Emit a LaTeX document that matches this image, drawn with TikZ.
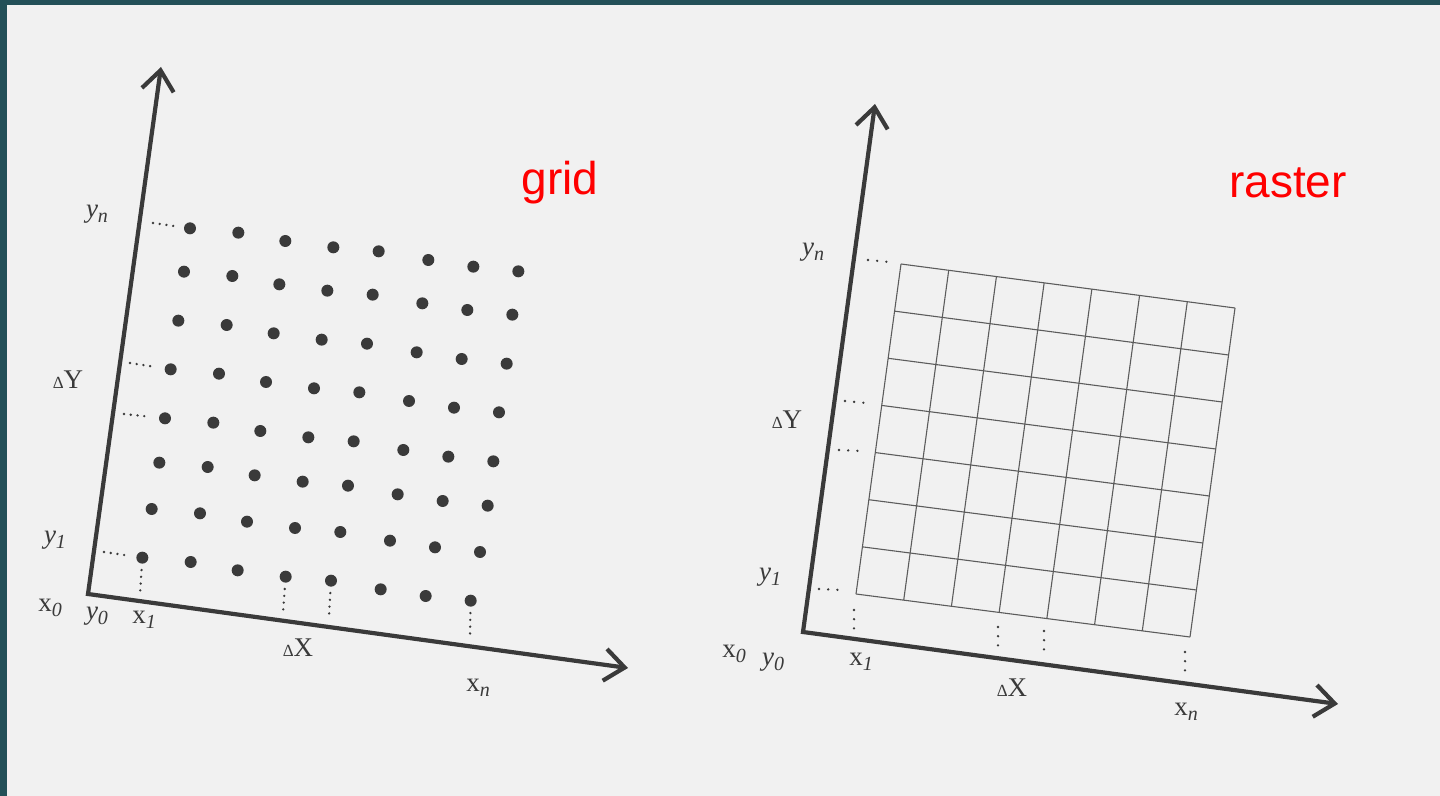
\documentclass[tikz,border=0pt]{standalone}
\usepackage{fontspec}
\setmainfont{Liberation Serif}
\newfontfamily\arialf{Liberation Sans}
\usetikzlibrary{arrows.meta,calc}
\definecolor{framecol}{HTML}{235058}
\definecolor{paper}{HTML}{F1F1F1}
\definecolor{ink}{HTML}{3A3A3A}
\definecolor{gridcol}{HTML}{5C5C5C}
\definecolor{lblred}{HTML}{FF0000}
\newcommand\lsub[1]{\raisebox{-0.45ex}{\fontsize{10}{10}\selectfont\itshape #1}}
\newcommand\dlt{{\fontsize{8.5}{8.5}\selectfont Δ}}
\tikzset{
  axis/.style={draw=ink, line width=2.1pt, {Straight Barb[length=10pt,width=16pt]}-{Straight Barb[length=10pt,width=16pt]}},
  dotn/.style={circle, fill=ink, inner sep=0pt, minimum size=6pt},
  tick/.style={draw=ink, line width=1.3pt, line cap=round, dash pattern=on 0pt off 3.4pt},
  rtick/.style={draw=ink, line width=1.3pt, line cap=round, dash pattern=on 0pt off 4.6pt},
  lbl/.style={inner sep=0pt, text=ink, font=\fontsize{13.5}{13.5}\selectfont},
  title/.style={inner sep=0pt, text=lblred, font=\arialf\fontsize{23}{23}\selectfont},
  gline/.style={draw=gridcol, line width=0.55pt}
}
\begin{document}
\begin{tikzpicture}[x=0.5pt,y=-0.5pt]
\useasboundingbox (0,0) rectangle (1440,796);
\fill[framecol] (0,0) rectangle (1440,796);
\fill[paper] (7,5) rectangle (1440,796);

% ---------------- left: grid ----------------
\coordinate (O1) at (88,594);
\coordinate (Y1) at (161,67);
\coordinate (X1) at (628,668);
\draw[axis] (Y1) -- (O1) -- (X1);

\foreach \rx/\ry [count=\i] in {480/85,462/215,445/362,422/508,405/655,388/788,365/927,337/1073}{
  \foreach \cx/\cy [count=\j] in {0/0,145/13,286/38,430/57,566/69,715/95,850/115,985/129}{
    \node[dotn] (d\i-\j) at ({30+(\rx+\cx)/3},{200+(\ry+\cy)/3}) {};
  }
}
% horizontal ticks
\coordinate (ha1) at (153,223);
\coordinate (ha4) at (130,363);
\coordinate (ha5) at (124,414);
\coordinate (ha8) at (104,552);
\draw[tick, shorten >=4.5pt] (ha1) -- (d1-1);
\draw[tick, shorten >=4.5pt] (ha4) -- (d4-1);
\draw[tick, shorten >=4.5pt] (ha5) -- (d5-1);
\draw[tick, shorten >=4.5pt] (ha8) -- (d8-1);
% vertical ticks
\coordinate (va1) at (140,594);
\coordinate (va4) at (283,613);
\coordinate (va5) at (329,616);
\coordinate (va8) at (470,636);
\draw[tick, shorten <=3pt] (d8-1) -- (va1);
\draw[tick, shorten <=3pt] (d8-4) -- (va4);
\draw[tick, shorten <=3pt] (d8-5) -- (va5);
\draw[tick, shorten <=3pt] (d8-8) -- (va8);

\node[lbl] (lyn) at (97,214) {\itshape y\lsub{n}};
\node[lbl] (ldy) at (68,380) {\dlt Y};
\node[lbl] (ly1) at (55,540) {\itshape y\lsub{1}};
\node[lbl] (lx0) at (50,608) {x\lsub{0}};
\node[lbl] (ly0) at (97,616) {\itshape y\lsub{0}};
\node[lbl] (lx1) at (144,620) {x\lsub{1}};
\node[lbl] (ldx) at (298,648) {\dlt X};
\node[lbl] (lxn) at (478,688) {x\lsub{n}};
\node[title] (tgrid) at (560,183) {grid};

% ---------------- right: raster ----------------
\coordinate (O2) at (803,632);
\coordinate (Y2) at (875,104);
\coordinate (X2) at (1338,704);
\draw[axis] (Y2) -- (O2) -- (X2);

\coordinate (gTL) at (901,264);
\coordinate (gTR) at (1235,308);
\coordinate (gBL) at (856,594);
\coordinate (gBR) at (1190,637);
\foreach \k in {0,...,7}{
  \draw[gline] ($(gTL)!\k/7!(gTR)$) -- ($(gBL)!\k/7!(gBR)$);
  \draw[gline] ($(gTL)!\k/7!(gBL)$) -- ($(gTR)!\k/7!(gBR)$);
}
% ticks
\coordinate (hb1a) at (868,260); \coordinate (hb1b) at (889,262);
\coordinate (hb2a) at (845,401); \coordinate (hb2b) at (866,403);
\coordinate (hb3a) at (839,450); \coordinate (hb3b) at (861,451);
\coordinate (hb4a) at (819,589); \coordinate (hb4b) at (841,590);
\draw[rtick] (hb1a) -- (hb1b);
\draw[rtick] (hb2a) -- (hb2b);
\draw[rtick] (hb3a) -- (hb3b);
\draw[rtick] (hb4a) -- (hb4b);
\coordinate (vb1a) at (854,610); \coordinate (vb1b) at (854,631);
\coordinate (vb2a) at (998,627); \coordinate (vb2b) at (998,648);
\coordinate (vb3a) at (1044,631); \coordinate (vb3b) at (1044,652);
\coordinate (vb4a) at (1185,652); \coordinate (vb4b) at (1185,673);
\draw[rtick] (vb1a) -- (vb1b);
\draw[rtick] (vb2a) -- (vb2b);
\draw[rtick] (vb3a) -- (vb3b);
\draw[rtick] (vb4a) -- (vb4b);

\node[lbl] (ryn) at (813,252) {\itshape y\lsub{n}};
\node[lbl] (rdy) at (787,420) {\dlt Y};
\node[lbl] (ry1) at (770,577) {\itshape y\lsub{1}};
\node[lbl] (rx0) at (734,654) {x\lsub{0}};
\node[lbl] (ry0) at (773,662) {\itshape y\lsub{0}};
\node[lbl] (rx1) at (861,662) {x\lsub{1}};
\node[lbl] (rdx) at (1012,688) {\dlt X};
\node[lbl] (rxn) at (1186,712) {x\lsub{n}};
\node[title] (traster) at (1288,183) {raster};
\end{tikzpicture}
\end{document}
